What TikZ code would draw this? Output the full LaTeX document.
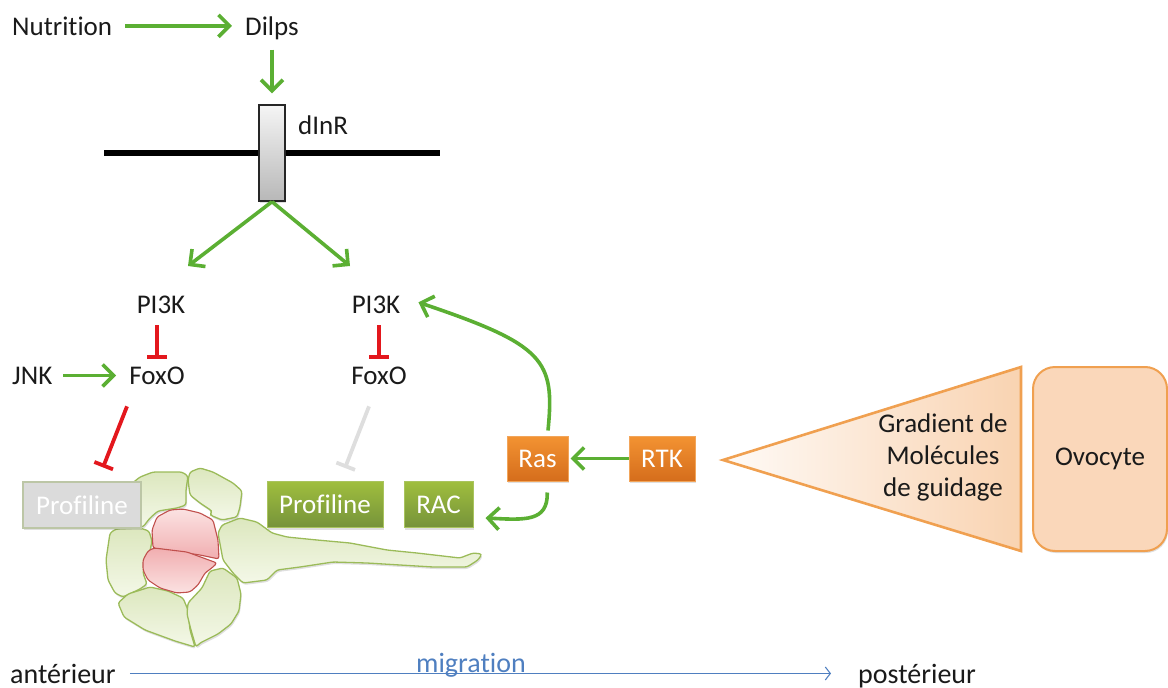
\documentclass[tikz,border=0pt]{standalone}
\usepackage{fontspec}
\setmainfont{Carlito}[Ligatures={NoCommon,NoRequired,NoContextual},Contextuals=NoAlternate]
\usetikzlibrary{arrows.meta,calc,shadows}
\definecolor{arrgreen}{HTML}{5BAF33}
\definecolor{inhred}{HTML}{E3171D}
\definecolor{inhgray}{HTML}{DEDEDE}
\definecolor{boxgreenT}{HTML}{9FBE3E}
\definecolor{boxgreenB}{HTML}{76933A}
\definecolor{boxgreenL}{HTML}{A9C45E}
\definecolor{boxorT}{HTML}{F39332}
\definecolor{boxorB}{HTML}{D56D1C}
\definecolor{boxorL}{HTML}{F2A55A}
\definecolor{peach}{HTML}{F9D3B1}
\definecolor{ovofill}{HTML}{FAD7BA}
\definecolor{orline}{HTML}{F0A050}
\definecolor{cellfillA}{HTML}{DCE7BE}
\definecolor{cellfillB}{HTML}{F4F8E8}
\definecolor{cellline}{HTML}{9BBB59}
\definecolor{pinkA}{HTML}{FBE2E2}
\definecolor{pinkB}{HTML}{F1AEB0}
\definecolor{pinkline}{HTML}{C0504D}
\definecolor{migblue}{HTML}{4F7FC0}
\definecolor{ink}{HTML}{1A1A1A}
\begin{document}
\begin{tikzpicture}[x=1pt,y=-1pt,
  lbl/.style={inner sep=0pt, text=ink, font=\fontsize{27}{32}\selectfont},
  botlbl/.style={lbl, font=\fontsize{28}{32}\selectfont},
  act/.style={draw=arrgreen, line width=3.6pt,
    -{Straight Barb[length=11pt,width=22pt,line width=3.6pt]}},
  inh/.style={draw=inhred, line width=3.8pt, -{Bar[width=20pt,line width=3.8pt]}},
  inhoff/.style={inh, draw=inhgray},
  migarrow/.style={draw=migblue, line width=1.1pt,
    -{Straight Barb[length=5pt,width=13pt,line width=1.1pt]}},
  softshadow/.style={drop shadow={shadow xshift=1pt, shadow yshift=-2pt,
    opacity=.18, fill=black!70}},
  boxbase/.style={lbl, text=white, minimum height=46pt, softshadow},
  graybox/.style={boxbase, fill=black!14, draw=cellline!55!gray!60, line width=1.2pt},
  greenbox/.style={boxbase, top color=boxgreenT, bottom color=boxgreenB,
    draw=boxgreenL, line width=1pt},
  orangebox/.style={boxbase, minimum height=45pt, top color=boxorT,
    bottom color=boxorB, draw=boxorL, line width=1pt},
  recbox/.style={draw=black!85, line width=1.4pt, top color=black!4,
    bottom color=black!28, minimum width=26pt, minimum height=96pt,
    inner sep=0pt, softshadow},
  cell/.style={draw=cellline, line width=1.3pt, rounded corners=2.5pt,
    top color=cellfillA, bottom color=cellfillB, softshadow},
  pinkcell/.style={draw=pinkline, line width=1.1pt, rounded corners=2.5pt,
    top color=pinkA, bottom color=pinkB},
  pinkcellb/.style={pinkcell, top color=pinkB, bottom color=pinkA},
  ovobox/.style={lbl, draw=orline, line width=2pt, fill=ovofill,
    rounded corners=22pt, softshadow}
]
\useasboundingbox (0,0) rectangle (1168,688);

% --- insulin input ---
\node[lbl, anchor=base west] (nut) at (12,35) {Nutrition};
\node[lbl, anchor=base] (dilps) at (272,35) {Dilps};
\draw[act, shorten <=13pt, shorten >=13pt] (nut.east) -- (nut.east -| dilps.west);

% --- membrane with receptor ---
\coordinate (memL) at (104,153);
\coordinate (memR) at (440,153);
\draw[line width=6pt] (memL) -- (memR);
\node[recbox] (rec) at (272,153) {};
\node[lbl, anchor=base west] (dinr) at (298,134) {dInR};
\draw[act, shorten <=10pt, shorten >=11pt] (dilps.south) -- (rec.north);

% --- two branches ---
\coordinate (br1) at (188,266);
\coordinate (br2) at (350,266);
\draw[act] (rec.south) -- (br1);
\draw[act] (rec.south) -- (br2);

\node[lbl, anchor=base] (pi1) at (161,313) {PI3K};
\node[lbl, anchor=base] (pi2) at (376,313) {PI3K};
\node[lbl, anchor=base] (fox1) at (157,384) {FoxO};
\node[lbl, anchor=base] (fox2) at (379,384) {FoxO};
\node[lbl, anchor=base west] (jnk) at (12,384) {JNK};

\draw[inh, shorten <=12pt, shorten >=7pt] (pi1.south -| fox1.north) -- (fox1.north);
\draw[inh, shorten <=12pt, shorten >=7pt] (pi2.south -| fox2.north) -- (fox2.north);
\draw[act, shorten <=11pt, shorten >=13pt] (jnk.east) -- (jnk.east -| fox1.west);

% --- border cell cluster ---
\path[cell] (130,485) -- (140,477) -- (153,472) -- (182,472) -- (188,476) -- (186,490)
  -- (186,505) -- (177,508) -- (158,511) -- (150,518) -- (143,527) -- (130,527) -- cycle;
\path[cell] (190,472) -- (200,468) -- (213,472) -- (233,483) -- (242,491) -- (240,507)
  -- (237,517) -- (222,520) -- (210,515) -- (212,511) -- (200,503) -- (190,495)
  -- (188,480) -- cycle;
\path[cell] (110,533) -- (116,529) -- (140,528) -- (149,531) -- (152,541) -- (150,551)
  -- (145,561) -- (143,573) -- (147,584) -- (140,589) -- (123,597) -- (115,593)
  -- (108,580) -- (106,560) -- cycle;
\path[cell] (118,603) -- (128,594) -- (150,587) -- (168,591) -- (183,598) -- (188,610)
  -- (190,630) -- (195,647) -- (175,641) -- (145,630) -- (124,617) -- cycle;
\path[cell] (188,603) -- (202,588) -- (210,571) -- (223,568) -- (237,578) -- (241,594)
  -- (239,611) -- (231,624) -- (218,634) -- (200,643) -- (196,647) -- (191,630)
  -- (187,614) -- cycle;
\path[cell] (218,533) -- (222,525) -- (240,518) -- (257,522) -- (272,533) -- (287,537)
  -- (317,540) -- (350,543) -- (387,550) -- (417,553) -- (460,558) -- (473,553)
  -- (482,554) -- (478,560) -- (467,567) -- (433,567) -- (400,565) -- (367,563)
  -- (333,562) -- (300,567) -- (277,570) -- (267,580) -- (243,583) -- (233,573)
  -- (223,560) -- cycle;
\path[pinkcell] (152,530) -- (157,517) -- (170,510) -- (183,509) -- (200,513)
  -- (213,520) -- (218,540) -- (219,559) -- (200,555) -- (173,551) -- (153,548) -- cycle;
\path[pinkcellb] (148,551) -- (154,548) -- (187,552) -- (217,563) -- (213,567)
  -- (205,573) -- (198,585) -- (190,592) -- (177,593) -- (160,588) -- (148,580)
  -- (143,570) -- (143,560) -- cycle;

% --- effector boxes ---
\node[graybox, minimum width=118pt] (prof1) at (82,505) {Profiline};
\node[greenbox, minimum width=116pt] (prof2) at (325,504.5) {Profiline};
\node[greenbox, minimum width=69pt] (rac) at (438.5,504.5) {RAC};
\node[orangebox, minimum width=61pt] (ras) at (537.5,458.5) {Ras};
\node[orangebox, minimum width=66pt] (rtk) at (662,458.5) {RTK};

\draw[inh] ($(fox1.south)+(-30,22)$) -- ($(prof1.north)+(21,-14)$);
\draw[inhoff] ($(fox2.south)+(-10,22)$) -- ($(prof2.north)+(20,-13)$);

\draw[act, shorten >=2pt] (rtk.west) -- (ras.east);
\draw[act, shorten <=5pt] ([xshift=10pt]ras.north) .. controls (555,360) and (545,345)
  .. ($(pi2.east)+(18,-2)$);
\draw[act, shorten <=11pt] ([xshift=9.5pt]ras.south) .. controls (548,522) and (525,520)
  .. ($(rac.south east)+(12,-10)$);

% --- guidance cue gradient and oocyte ---
\coordinate (triL) at (723,460);
\coordinate (triT) at (1021,367);
\coordinate (triB) at (1021,551);
\path[draw=orline, line width=2.6pt, line join=miter, left color=peach!10,
  middle color=peach!45, right color=peach] (triL) -- (triT) -- (triB) -- cycle;
\node[lbl, align=center] (grad) at (943,457) {Gradient de\\Molécules\\de guidage};
\node[ovobox, minimum width=134pt, minimum height=184pt] (ovo) at (1100,459) {Ovocyte};

% --- antero-posterior axis ---
\node[botlbl, anchor=base west] (ant) at (10,683) {antérieur};
\node[botlbl, anchor=base west] (post) at (858,683) {postérieur};
\node[botlbl, anchor=base, text=migblue] (mig) at (471,672) {migration};
\draw[migarrow, shorten <=14pt, shorten >=27pt] (ant.east) -- (ant.east -| post.west);
\end{tikzpicture}
\end{document}
